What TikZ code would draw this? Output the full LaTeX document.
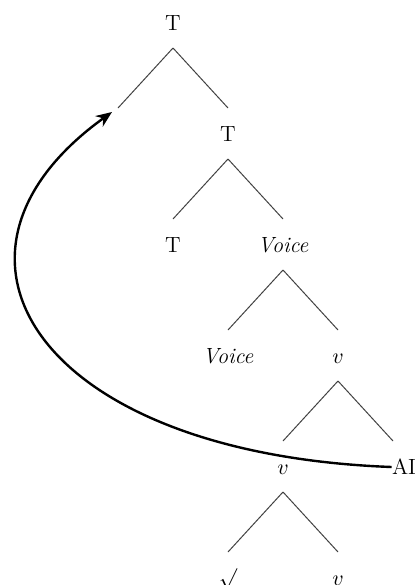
\documentclass[tikz,border=0pt]{standalone}
\usetikzlibrary{arrows.meta,positioning,calc}
\tikzset{
  lbl/.style={
    inner sep=0pt,
    text height=7.5pt,
    text depth=0pt,
    font=\fontsize{11}{13}\selectfont
  },
  branch/.style={line width=0.5pt,draw=black!75},
  movement/.style={-{Stealth[length=8pt,width=6.5pt]},line width=1.2pt}
}
\begin{document}
\begin{tikzpicture}[node distance=55.5pt and 27.5pt, on grid]
\useasboundingbox (0,0) rectangle (207pt,-292.5pt);

\node[lbl] (t0) at (86.5pt,-11.5pt) {T};
\node[lbl, below left=of t0] (spec) {};
\node[lbl, below right=of t0] (t1) {T};
\node[lbl, below left=of t1] (t2) {T};
\node[lbl, below right=of t1] (voicep) {\itshape Voice};
\node[lbl, below left=of voicep] (voice) {\itshape Voice};
\node[lbl, below right=of voicep] (vp) {$v$};
\node[lbl, below left=of vp] (vhead) {$v$};
\node[lbl, below right=of vp, xshift=5.5pt] (ai) {AI};
\node[lbl, below left=of vhead] (root) {$\surd$};
\node[lbl, below right=of vhead] (vlow) {$v$};

% branches
\foreach \p/\c in {t0/spec, t0/t1, t1/t2, t1/voicep, voicep/voice, voicep/vp, vp/vhead, vhead/root, vhead/vlow}
  \draw[branch] ([yshift=-12.5pt]\p.center) -- ([yshift=13pt]\c.center);
\draw[branch] ([yshift=-12.5pt]vp.center) -- ([xshift=-5.5pt,yshift=13pt]ai.center);

% movement of AI
\draw[movement] (ai.west) .. controls +(-176pt,6.5pt) and +(-100pt,-72pt) .. ([shift={(-3pt,11pt)}]spec.center);

\end{tikzpicture}
\end{document}
